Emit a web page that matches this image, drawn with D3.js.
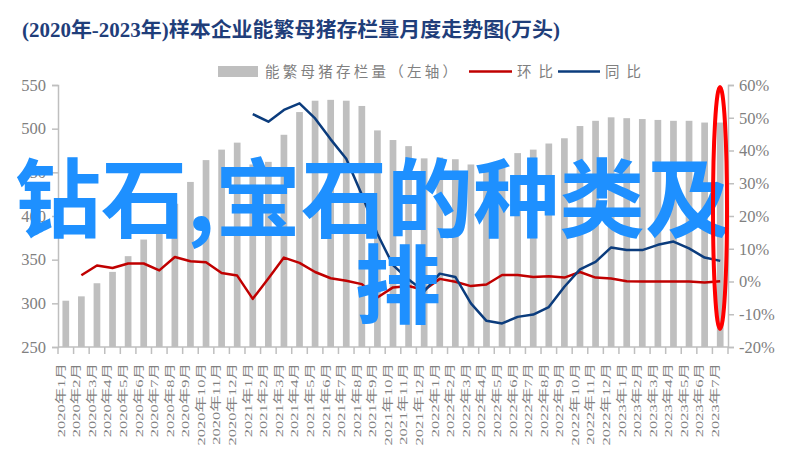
<!DOCTYPE html>
<html><head><meta charset="utf-8">
<script src="https://cdn.jsdelivr.net/npm/d3@7/dist/d3.min.js"></script>
<style>
html,body{margin:0;padding:0;background:#fff;}
svg{display:block;}
</style></head>
<body>
<svg id="chart" width="796" height="461"></svg>
<script>
const months = ["2020年1月","2020年2月","2020年3月","2020年4月","2020年5月","2020年6月","2020年7月","2020年8月","2020年9月","2020年10月","2020年11月","2020年12月",
"2021年1月","2021年2月","2021年3月","2021年4月","2021年5月","2021年6月","2021年7月","2021年8月","2021年9月","2021年10月","2021年11月","2021年12月",
"2022年1月","2022年2月","2022年3月","2022年4月","2022年5月","2022年6月","2022年7月","2022年8月","2022年9月","2022年10月","2022年11月","2022年12月",
"2023年1月","2023年2月","2023年3月","2023年4月","2023年5月","2023年6月","2023年7月"];
const stock = [303,308,323,336,354,373,386,414,439,464,476,484,
459,462,493,519,532,533,532,526,498,487,480,466,
467,465,459,455,464,472,476,483,489,503,509,513,
512,511,510,509,509,507,507];
const mom = [null,1.9,4.9,4.1,5.5,5.5,3.4,7.5,6.2,5.9,2.6,1.8,
-5.3,0.9,7.3,5.7,2.9,1.0,0.2,-0.8,-4.9,-1.8,-1.4,-2.6,
0.8,-0.1,-1.4,-0.9,2.0,2.0,1.4,1.6,1.2,2.9,1.2,0.9,
0.1,0.0,0.0,0.0,0.0,-0.3,0.1];
const yoy = [null,null,null,null,null,null,null,null,null,null,null,null,
51.1,48.8,52.4,54.4,49.8,43.4,37.5,26.5,14.5,5.0,0.6,-3.0,
2.4,1.4,-6.7,-12.0,-12.8,-10.8,-10.1,-7.8,-1.6,3.7,6.0,10.4,
9.6,9.6,11.2,12.2,10.1,7.3,6.3];
const leftTicks = [250,300,350,400,450,500,550];
const rightTicks = [-20,-10,0,10,20,30,40,50,60];
const titleText = "(2020年-2023年)样本企业能繁母猪存栏量月度走势图(万头)";
const legendLabels = ["能繁母猪存栏量（左轴）","环比","同比"];
const overlayLines = ["钻石,宝石的种类及","排"];

const svg = d3.select("#chart");
const L = 58, R = 728, T = 85, B = 347;
const grey = "#808080", axisCol = "#BFBFBF";
const serif = "'Liberation Serif','Noto Sans CJK SC',serif";

const x = d3.scaleBand().domain(months).range([L, R]).paddingInner(0.57).paddingOuter(0.285);
const x0 = d3.scaleBand().domain(months).range([L, R]).padding(0);
const yL = d3.scaleLinear().domain([250,550]).range([B, T]);
const yR = d3.scaleLinear().domain([-20,60]).range([B, T]);

// title
svg.append("text").attr("x", 22).attr("y", 37)
  .attr("font-family", serif).attr("font-weight", "bold").attr("font-size", 20)
  .attr("fill", "#1F3E7A").attr("textLength", 538).attr("lengthAdjust", "spacingAndGlyphs")
  .text(titleText);

// bars
svg.append("g").selectAll("rect").data(stock).join("rect")
  .attr("x", (d,i) => x(months[i])).attr("width", x.bandwidth())
  .attr("y", d => yL(d)).attr("height", d => yL(250) - yL(d))
  .attr("fill", "#BFBFBF");

// axes
const gL = svg.append("g").attr("transform", `translate(${L},0)`)
  .call(d3.axisLeft(yL).tickValues(leftTicks).tickSize(6).tickPadding(6));
const gR = svg.append("g").attr("transform", `translate(${R},0)`)
  .call(d3.axisRight(yR).tickValues(rightTicks).tickSize(6).tickPadding(5).tickFormat(d => d + "%"));
[gL, gR].forEach(g => {
  g.select(".domain").attr("stroke", axisCol).attr("stroke-width", 1.5);
  g.selectAll(".tick line").attr("stroke", axisCol).attr("stroke-width", 1.5);
  g.selectAll(".tick text").attr("fill", grey).attr("font-family", serif).attr("font-size", 16.5);
});

// bottom axis
svg.append("line").attr("x1", L).attr("x2", R).attr("y1", B).attr("y2", B)
  .attr("stroke", axisCol).attr("stroke-width", 1.5);
const tickXs = months.map(m => x0(m)).concat([R]);
svg.append("g").selectAll("line").data(tickXs).join("line")
  .attr("x1", d => d).attr("x2", d => d).attr("y1", B).attr("y2", B + 7)
  .attr("stroke", axisCol).attr("stroke-width", 1.5);
svg.append("g").selectAll("text").data(months).join("text")
  .attr("transform", m => `translate(${x(m) + x.bandwidth()/2 - 5},${B + 16}) rotate(-90) scale(1.5,1)`)
  .attr("text-anchor", "end").attr("dy", "0.35em")
  .attr("font-family", serif).attr("font-size", 11).attr("fill", grey)
  .text(m => m);

// lines
const cx = i => x(months[i]) + x.bandwidth()/2;
const line = d3.line().defined(d => d != null).x((d,i) => cx(i)).y(d => yR(d));
svg.append("path").datum(mom).attr("d", line).attr("fill", "none")
  .attr("stroke", "#C00000").attr("stroke-width", 2.5).attr("stroke-linejoin", "round");
svg.append("path").datum(yoy).attr("d", line).attr("fill", "none")
  .attr("stroke", "#0B3C7D").attr("stroke-width", 2.5).attr("stroke-linejoin", "round");

// legend
const lg = svg.append("g").attr("font-family", "'Noto Sans CJK SC',sans-serif").attr("font-size", 14.5).attr("fill", grey);
lg.append("rect").attr("x", 218).attr("y", 66).attr("width", 40).attr("height", 11).attr("fill", "#BFBFBF");
lg.append("text").attr("x", 265).attr("y", 77).attr("textLength", 192).attr("lengthAdjust", "spacing").text(legendLabels[0]);
lg.append("line").attr("x1", 469).attr("x2", 512).attr("y1", 71.5).attr("y2", 71.5).attr("stroke", "#C00000").attr("stroke-width", 2.5);
lg.append("text").attr("x", 517).attr("y", 77).attr("textLength", 36).attr("lengthAdjust", "spacing").text(legendLabels[1]);
lg.append("line").attr("x1", 558).attr("x2", 600).attr("y1", 71.5).attr("y2", 71.5).attr("stroke", "#0B3C7D").attr("stroke-width", 2.5);
lg.append("text").attr("x", 605).attr("y", 77).attr("textLength", 36).attr("lengthAdjust", "spacing").text(legendLabels[2]);

// overlay text
const ov = svg.append("g").attr("font-family", "'Noto Sans CJK SC',sans-serif").attr("font-weight", "bold")
  .attr("font-size", 86).attr("fill", "#1E90FF");
ov.append("text").attr("x", 15).attr("y", 231).text(overlayLines[0]);
ov.append("text").attr("x", 398).attr("y", 317).attr("text-anchor", "middle").text(overlayLines[1]);

// red ellipse
svg.append("ellipse").attr("cx", 720).attr("cy", 208).attr("rx", 7).attr("ry", 121)
  .attr("fill", "none").attr("stroke", "#FF0000").attr("stroke-width", 4);
</script>
</body></html>
